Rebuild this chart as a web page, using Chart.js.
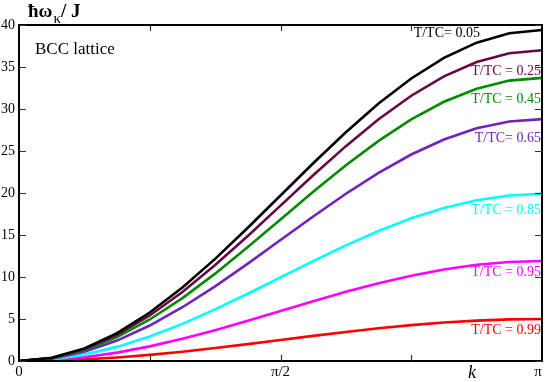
<!DOCTYPE html>
<html>
<head>
<meta charset="utf-8">
<script src="https://cdn.jsdelivr.net/npm/chart.js@4.4.1/dist/chart.umd.min.js"></script>
<style>
  html, body { margin: 0; padding: 0; background: #fff; }
  #wrap { width: 545px; height: 382px; }
</style>
</head>
<body>
<div id="wrap"><canvas id="grafico"></canvas></div>
<script>
// k in steps of pi/16, from 0 to pi
const kSteps = [0, 1, 2, 3, 4, 5, 6, 7, 8, 9, 10, 11, 12, 13, 14, 15, 16];

const t005 = [0, 0.38, 1.50, 3.32, 5.77, 8.76, 12.16, 15.86, 19.70, 23.54, 27.24, 30.65, 33.63, 36.08, 37.90, 39.02, 39.40];
const t025 = [0, 0.36, 1.41, 3.12, 5.42, 8.22, 11.42, 14.89, 18.50, 22.11, 25.58, 28.78, 31.58, 33.88, 35.59, 36.64, 37.00];
const t045 = [0, 0.32, 1.28, 2.84, 4.94, 7.49, 10.40, 13.56, 16.85, 20.14, 23.30, 26.21, 28.76, 30.86, 32.42, 33.38, 33.70];
const t065 = [0, 0.28, 1.10, 2.43, 4.22, 6.40, 8.89, 11.59, 14.40, 17.21, 19.91, 22.40, 24.58, 26.37, 27.70, 28.52, 28.80];
const t085 = [0, 0.19, 0.76, 1.68, 2.91, 4.42, 6.14, 8.01, 9.95, 11.89, 13.76, 15.48, 16.99, 18.22, 19.14, 19.71, 19.90];
const t095 = [0, 0.11, 0.45, 1.00, 1.74, 2.64, 3.67, 4.79, 5.95, 7.11, 8.23, 9.26, 10.16, 10.90, 11.45, 11.79, 11.90];
const t099 = [0, 0.05, 0.19, 0.42, 0.73, 1.11, 1.54, 2.01, 2.50, 2.99, 3.46, 3.89, 4.27, 4.58, 4.81, 4.95, 5.00];

const seriesNames = ["T/TC= 0.05", "T/TC = 0.25", "T/TC = 0.45", "T/TC= 0.65", "T/TC = 0.85", "T/TC = 0.95", "T/TC = 0.99"];
const seriesValues = [t005, t025, t045, t065, t085, t095, t099];
const seriesColors = ["#000000", "#670748", "#008b00", "#7221bc", "#00ffff", "#ff00ff", "#ff0000"];
// where each label sits: [k value, y value] (right end of the text, middle)
const labelPos = [[14.1, 39.0], [16, 34.5], [16, 31.2], [16, 26.5], [16, 17.9], [16, 10.6], [16, 3.7]];

const yTicks = [0, 5, 10, 15, 20, 25, 30, 35, 40];
const xTicks = [4, 8, 12];
const xTickLabels = [[0, "0"], [8, "π/2"], [16, "π"]];

const SERIF = "'Liberation Serif', 'DejaVu Serif', serif";

// frame, inward ticks and text
const decoraciones = {
    id: "decoraciones",
    afterDraw(chart) {
        const ctx = chart.ctx;
        const a = chart.chartArea;
        const xs = chart.scales.x, ys = chart.scales.y;
        ctx.save();
        ctx.strokeStyle = "#000";
        ctx.lineWidth = 2;
        ctx.strokeRect(a.left, a.top, a.right - a.left, a.bottom - a.top);

        ctx.lineWidth = 1.2;
        ctx.strokeStyle = "#333";
        ctx.beginPath();
        yTicks.forEach(v => {
            const p = Math.round(ys.getPixelForValue(v)) + 0.5;
            ctx.moveTo(a.left, p); ctx.lineTo(a.left + 7, p);
            ctx.moveTo(a.right, p); ctx.lineTo(a.right - 7, p);
        });
        xTicks.forEach(v => {
            const p = Math.round(xs.getPixelForValue(v)) + 0.5;
            ctx.moveTo(p, a.bottom); ctx.lineTo(p, a.bottom - 6);
            ctx.moveTo(p, a.top); ctx.lineTo(p, a.top + 6);
        });
        ctx.stroke();

        ctx.fillStyle = "#000";
        // x tick labels
        ctx.font = "15px " + SERIF;
        ctx.textAlign = "center";
        ctx.textBaseline = "middle";
        xTickLabels.forEach(([v, t]) => {
            let px = xs.getPixelForValue(v);
            if (v === 16) px -= 4;
            ctx.fillText(t, px, a.bottom + 11);
        });

        // y axis title
        ctx.textBaseline = "alphabetic";
        ctx.textAlign = "left";
        ctx.font = "bold 19px " + SERIF;
        ctx.fillText("ħω", 28, 17);
        let w = ctx.measureText("ħω").width;
        ctx.font = "15px " + SERIF;
        ctx.fillText("κ", 28 + w + 1, 23);
        let w2 = ctx.measureText("κ").width;
        ctx.font = "bold 19px " + SERIF;
        ctx.fillText("/ J", 28 + w + w2 + 1, 17);

        ctx.font = "17px " + SERIF;
        ctx.fillText("BCC lattice", 35, 54);

        ctx.font = "italic 18px " + SERIF;
        ctx.textAlign = "center";
        ctx.fillText("k", 472, 378);

        // series labels
        ctx.font = "14px " + SERIF;
        ctx.textBaseline = "middle";
        ctx.textAlign = "right";
        seriesNames.forEach((n, i) => {
            ctx.fillStyle = seriesColors[i];
            const px = xs.getPixelForValue(labelPos[i][0]);
            const py = ys.getPixelForValue(labelPos[i][1]);
            ctx.fillText(n, i === 0 ? px : px - 1, py);
        });
        ctx.restore();
    }
};

const ctx = document.getElementById("grafico").getContext("2d");
const grafico = new Chart(ctx, {
    type: "line",
    data: {
        datasets: seriesValues.map((vals, i) => ({
            label: seriesNames[i],
            data: kSteps.map((k, j) => ({x: k, y: vals[j]})),
            borderColor: seriesColors[i],
            borderWidth: 2.6,
            pointRadius: 0,
            tension: 0,
            fill: false
        }))
    },
    options: {
        responsive: true,
        maintainAspectRatio: false,
        animation: false,
        devicePixelRatio: 1,
        layout: {padding: {top: 25, right: 3, left: 0, bottom: 0}},
        plugins: {legend: {display: false}, tooltip: {enabled: false}},
        scales: {
            x: {
                type: "linear",
                min: 0,
                max: 16,
                grid: {display: false, drawTicks: false},
                border: {display: false},
                afterFit: s => { s.height = 21; },
                ticks: {display: false, stepSize: 4}
            },
            y: {
                min: 0,
                max: 40,
                grid: {display: false, drawTicks: false},
                border: {display: false},
                afterFit: s => { s.width = 19; },
                ticks: {
                    stepSize: 5,
                    padding: 4,
                    color: "#000",
                    font: {family: SERIF, size: 14}
                }
            }
        }
    },
    plugins: [decoraciones]
});
</script>
</body>
</html>
